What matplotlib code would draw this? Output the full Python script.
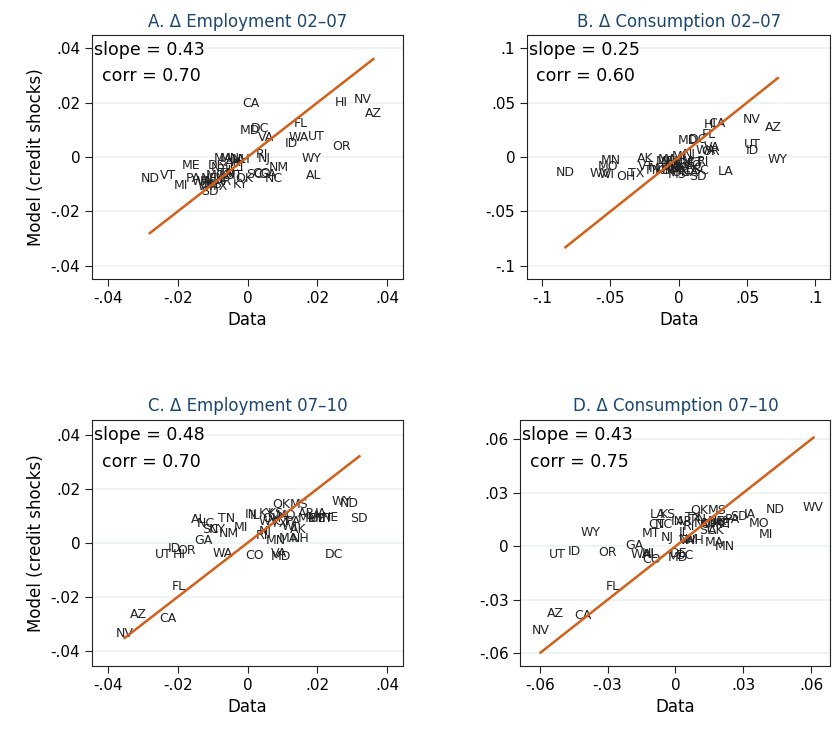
import matplotlib
matplotlib.use("Agg")
import matplotlib.pyplot as plt

states = ["AL","AK","AZ","AR","CA","CO","CT","DE","DC","FL","GA","HI","ID","IL","IN","IA","KS","KY","LA","ME",
          "MD","MA","MI","MN","MS","MO","MT","NE","NV","NH","NJ","NM","NY","NC","ND","OH","OK","OR","PA","RI",
          "SC","SD","TN","TX","UT","VT","VA","WA","WV","WI","WY"]

a_x = [.019,-.004,.036,-.007,.001,.004,-.003,-.009,.0034,.0152,.0056,.0268,.0124,-.005,-.008,-.012,-.006,-.002,-.003,-.0163,
       .0006,-.007,-.019,-.005,-.010,-.009,-.004,-.011,.033,-.002,.0048,.009,-.008,.0076,-.028,-.011,-.001,.0268,-.0155,.0042,
       .002,-.0107,-.006,-.008,.0197,-.0228,.0054,.0146,-.013,-.012,.0183]
a_y = [-.0067,-.002,.016,-.009,.0196,-.006,-.004,-.003,.0104,.0122,-.0063,.020,.0048,-.005,-.008,-.009,-.007,-.010,-.001,-.003,
       .0096,-.0007,-.0104,-.0007,-.010,-.007,-.007,-.008,.021,-.001,-.0004,-.0037,-.004,-.0078,-.0078,-.010,-.008,.0037,-.008,.001,
       -.0063,-.0126,-.006,-.011,.0074,-.0067,.007,.007,-.009,-.011,-.0007]

b_x = [.005,-.0246,.069,-.005,.028,.010,.012,.006,.014,.022,.008,.0232,.054,-.003,-.008,-.002,-.012,.004,.0345,-.010,
       .007,-.008,.000,-.050,-.001,-.052,-.015,.000,.0535,-.006,.008,.004,-.004,.012,-.083,-.039,.001,.023,-.003,.018,
       .016,.014,-.019,-.031,.054,-.024,.0246,.020,-.058,-.053,.0725]
b_y = [-.012,-.001,.027,-.010,.031,-.008,-.005,-.006,.016,.021,-.014,.030,.0056,-.006,-.012,-.008,-.012,-.010,-.013,-.004,
       .015,-.002,.000,-.003,-.016,-.009,-.011,-.011,.034,-.005,.002,-.004,-.008,-.010,-.014,-.018,-.014,.005,-.012,-.004,
       -.012,-.018,-.012,-.015,.011,-.009,.009,.006,-.015,-.016,-.002]

c_x = [-.014,.0146,-.0313,.017,-.0228,.002,.010,.020,.0248,-.0197,-.0127,-.0197,-.021,.002,.001,.021,.008,.0054,.019,.017,
       .0096,.0118,-.002,.008,.0146,.011,.022,.0237,-.0352,.015,.005,-.0054,-.0087,-.012,.029,.007,.0096,-.0175,.013,.004,
       -.0107,.032,-.006,.009,-.024,.020,.009,-.007,.006,.012,.0268]
c_y = [.0085,.005,-.0264,.011,-.0279,-.0048,.008,.009,-.0044,-.016,.001,-.0045,-.0022,.010,.0103,.011,.011,.011,.010,.009,
       -.005,.0015,.0055,.0007,.014,.010,.009,.0095,-.0334,.0015,.004,.0033,.005,.007,.0147,.009,.014,-.003,.008,.0025,
       .005,.0088,.009,.007,-.0045,.009,-.004,-.004,.008,.006,.0154]

d_x = [-.011,.018,-.053,.004,-.041,-.0106,-.0085,.0013,.004,-.0277,-.018,-.012,-.0447,.004,.001,.033,-.0034,.022,-.0077,.020,
       .0013,.017,.040,.022,.0183,.037,-.0106,.018,-.0596,.0085,-.0034,.006,.012,-.005,.044,.015,.0106,-.0298,.025,.006,
       .014,.028,.010,.008,-.052,.022,.005,-.0153,.061,.016,-.0375]
d_y = [-.0046,.0087,-.0375,.014,-.039,-.0075,.012,-.004,-.005,-.0225,.0006,-.004,-.0029,.008,.014,.018,.018,.014,.0179,.013,
       -.0063,.0023,.0069,.0,.020,.0127,.007,.014,-.0473,.003,.005,.004,.013,.012,.0208,.012,.020,-.0035,.015,.011,
       .0087,.017,.015,.016,-.0046,.012,.003,-.0046,.022,.013,.008]

titles = ["A. \u0394 Employment 02\u201307", "B. \u0394 Consumption 02\u201307",
          "C. \u0394 Employment 07\u201310", "D. \u0394 Consumption 07\u201310"]
slopes = ["0.43", "0.25", "0.48", "0.43"]
corrs = ["0.70", "0.60", "0.70", "0.75"]
ticks = [[-.04,-.02,0,.02,.04], [-.1,-.05,0,.05,.1], [-.04,-.02,0,.02,.04], [-.06,-.03,0,.03,.06]]
ticklabels = [["-.04","-.02","0",".02",".04"], ["-.1","-.05","0",".05",".1"],
              ["-.04","-.02","0",".02",".04"], ["-.06","-.03","0",".03",".06"]]
lims = [(-.0445,.0445,-.0448,.0448), (-.111,.111,-.112,.112), (-.0445,.0445,-.0455,.0455), (-.0685,.0685,-.067,.071)]
xs = [a_x, b_x, c_x, d_x]
ys = [a_y, b_y, c_y, d_y]

fig = plt.figure(figsize=(8.38, 7.3), dpi=100)
rects = [(0.110, 0.618, 0.371, 0.334), (0.629, 0.618, 0.362, 0.334),
         (0.110, 0.088, 0.371, 0.337), (0.621, 0.088, 0.370, 0.337)]
navy = "#1a476f"
for i in range(4):
    ax = fig.add_axes(rects[i])
    x, y = xs[i], ys[i]
    x0, x1, y0, y1 = lims[i]
    for t in ticks[i]:
        ax.axhline(t, color="#eaf2f3", lw=1.2, zorder=0)
    for s, xv, yv in zip(states, x, y):
        ax.text(xv, yv, s, ha="center", va="center", fontsize=9, color="#222222", zorder=2)
    lo, hi = min(x), max(x)
    ax.plot([lo, hi], [lo, hi], color="#d2601a", lw=1.8, zorder=3)
    ax.set_xlim(x0, x1); ax.set_ylim(y0, y1)
    ax.set_xticks(ticks[i]); ax.set_xticklabels(ticklabels[i], fontsize=11)
    ax.set_yticks(ticks[i]); ax.set_yticklabels(ticklabels[i], fontsize=11)
    ax.tick_params(length=5, color="#222222")
    ax.set_title(titles[i], color=navy, fontsize=12, pad=6)
    ax.set_xlabel("Data", fontsize=12)
    if i % 2 == 0:
        ax.set_ylabel("Model (credit shocks)", fontsize=12)
    ax.text(0.005, 0.94, "slope = " + slopes[i], transform=ax.transAxes, fontsize=12.5, va="center")
    ax.text(0.03, 0.83, "corr = " + corrs[i], transform=ax.transAxes, fontsize=12.5, va="center")
    for sp in ax.spines.values():
        sp.set_color("#222222")
fig.savefig("out.png", dpi=100, facecolor="white")
